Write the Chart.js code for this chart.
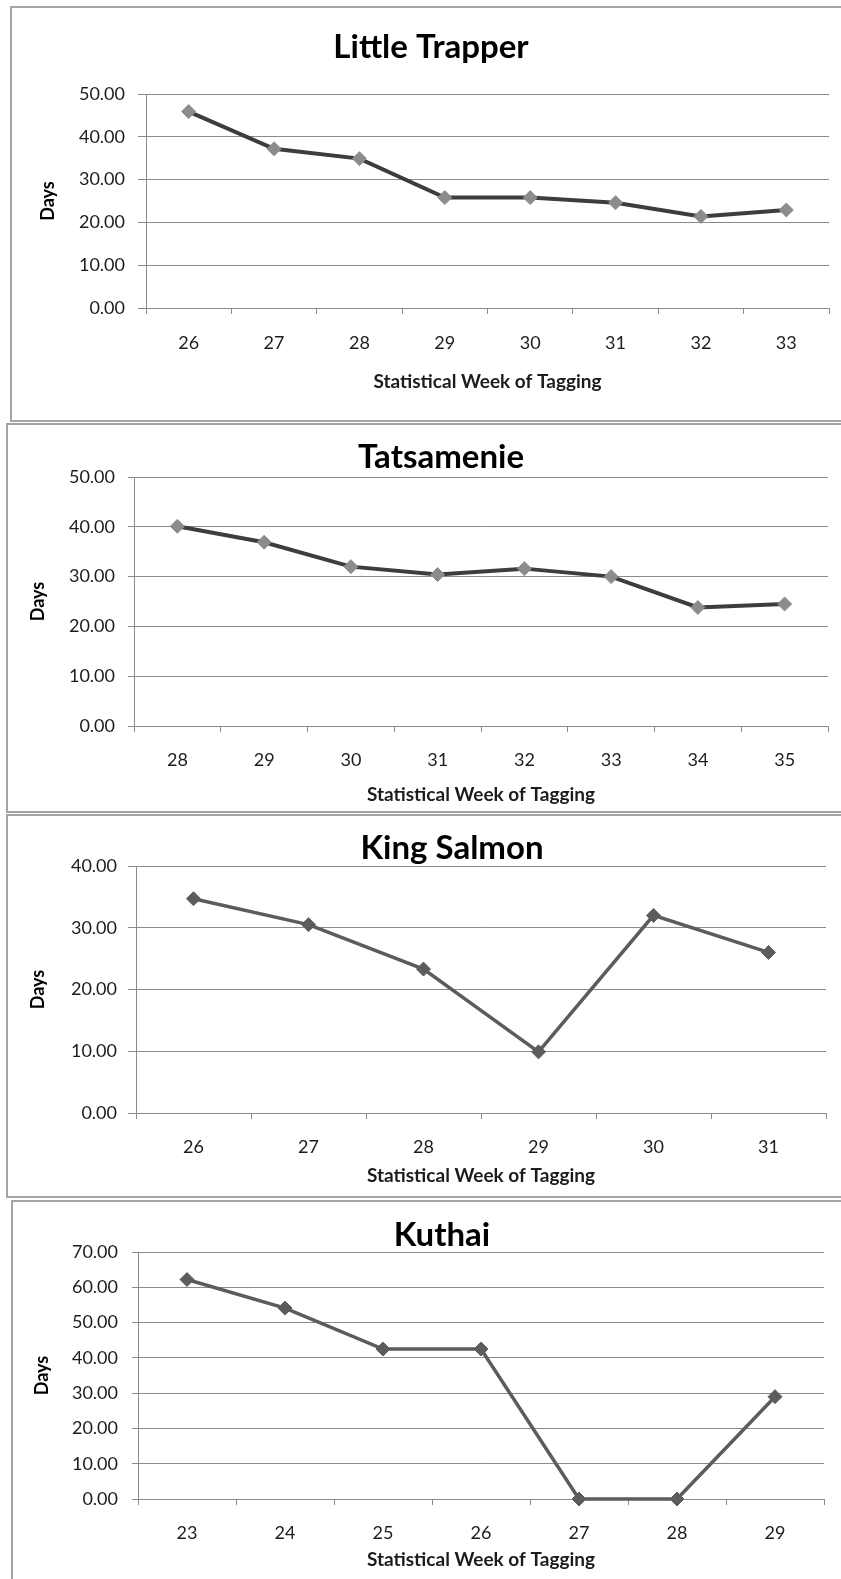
<!DOCTYPE html>
<html>
<head>
<meta charset="utf-8">
<script src="https://cdn.jsdelivr.net/npm/chart.js@4.4.1/dist/chart.umd.min.js"></script>
<style>
  html, body { margin: 0; padding: 0; background: #fff; overflow: hidden; }
  body { width: 841px; height: 1579px; position: relative; }
  .box { position: absolute; width: 900px; box-sizing: border-box; border: 2px solid #a4a4a4; border-right: none; }
  canvas { position: absolute; left: 0; }
</style>
</head>
<body>
<div class="box" style="left:10px; top:6px; height:416px;"></div>
<div class="box" style="left:6px; top:423px; height:390px;"></div>
<div class="box" style="left:6px; top:814px; height:384px;"></div>
<div class="box" style="left:11px; top:1200px; height:500px;"></div>
<canvas id="c1"></canvas>
<canvas id="c2"></canvas>
<canvas id="c3"></canvas>
<canvas id="c4"></canvas>
<script>
// datos
var weeksTrapper = ['26', '27', '28', '29', '30', '31', '32', '33'];
var daysTrapper = [45.9, 37.2, 34.9, 25.8, 25.8, 24.6, 21.4, 22.9];

var weeksTatsamenie = ['28', '29', '30', '31', '32', '33', '34', '35'];
var daysTatsamenie = [40.1, 36.9, 32.0, 30.4, 31.6, 30.0, 23.8, 24.5];

var weeksKing = ['26', '27', '28', '29', '30', '31'];
var daysKing = [34.7, 30.5, 23.3, 9.9, 32.0, 26.0];

var weeksKuthai = ['23', '24', '25', '26', '27', '28', '29'];
var daysKuthai = [62.2, 54.1, 42.5, 42.5, 0, 0, 29.0];

var yMaxTrapper = 50, yMaxTatsamenie = 50, yMaxKing = 40, yMaxKuthai = 70;

var FONT = 'Lato, "Open Sans", sans-serif';
var GRID = '#8a8a8a';
var TXT = '#1c1c1c';
var ANCHO = 860;

// posiciones de cada panel (pixeles); W = hueco invisible a la derecha para centrar el titulo
var p1 = { top: 7, h: 414, L: 33, R: 31, W: 0, yw: 113, xh: 113, tt: 23.5, tb: 30.5, xp: 18, xtb: 27.6, ytl: 8, yp: 13, dt: 4.2, lw: 4 };
var p2 = { top: 424, h: 388, L: 54, R: 32, W: 0, yw: 80, xh: 86, tt: 16.5, tb: 3.5, xp: 17, xtb: 5.6, ytl: 6, yp: 13, dt: -26.8, lw: 4 };
var p3 = { top: 814, h: 383, L: 60, R: 16, W: 18, yw: 76, xh: 84, tt: 17.5, tb: 1.5, xp: 17, xtb: 9.6, ytl: 8, yp: 11, dt: -32.8, lw: 3.5 };
var p4 = { top: 1201, h: 378, L: 60, R: 36, W: 0, yw: 78, xh: 80, tt: 17.5, tb: 0.5, xp: 17, xtb: 7.6, ytl: 6, yp: 14, dt: -28.8, lw: 3.5 };

function drawPanel(id, p, titulo, labels, data, yMax, lineColor, pointColor) {
    var canvas = document.getElementById(id);
    canvas.width = ANCHO;
    canvas.height = p.h;
    canvas.style.top = p.top + 'px';

    new Chart(canvas, {
        type: 'line',
        data: {
            labels: labels,
            datasets: [{
                data: data,
                borderColor: lineColor,
                borderWidth: p.lw,
                tension: 0,
                clip: false,
                pointStyle: 'rectRot',
                pointRadius: 7,
                pointBackgroundColor: pointColor,
                pointBorderColor: pointColor,
                pointBorderWidth: 1
            }]
        },
        options: {
            responsive: false,
            animation: false,
            devicePixelRatio: 1,
            layout: { padding: { left: p.L, right: p.R, top: 0, bottom: 0 } },
            plugins: {
                legend: { display: false },
                tooltip: { enabled: false },
                title: {
                    display: true,
                    text: titulo,
                    color: '#000',
                    font: { family: FONT, size: 33, weight: 'bold', lineHeight: 1 },
                    padding: { top: p.tt, bottom: p.tb }
                }
            },
            scales: {
                x: {
                    offset: true,
                    grid: { offset: true, drawOnChartArea: false, tickLength: 6, color: GRID },
                    border: { color: GRID },
                    ticks: { color: TXT, font: { family: FONT, size: 18 }, padding: p.xp, autoSkip: false, maxRotation: 0 },
                    title: {
                        display: true,
                        text: 'Statistical Week of Tagging',
                        color: TXT,
                        font: { family: FONT, size: 19, weight: 'bold' },
                        padding: { top: 0, bottom: p.xtb }
                    },
                    afterFit: function (scale) { scale.height = p.xh; }
                },
                y: {
                    min: 0,
                    max: yMax,
                    grid: { color: GRID, tickLength: p.ytl },
                    border: { color: GRID },
                    ticks: {
                        stepSize: 10,
                        color: TXT,
                        font: { family: FONT, size: 18 },
                        padding: p.yp,
                        callback: function (v) { return v.toFixed(2); }
                    },
                    title: {
                        display: true,
                        text: 'Days',
                        color: '#000',
                        font: { family: FONT, size: 18, weight: 'bold' },
                        padding: { top: p.dt, bottom: 0 }
                    },
                    afterFit: function (scale) { scale.width = p.yw; }
                },
                // eje vacio a la derecha, solo ocupa sitio
                hueco: {
                    display: p.W > 0,
                    position: 'right',
                    grid: { display: false },
                    border: { display: false },
                    ticks: { display: false },
                    afterFit: function (scale) { scale.width = p.W; }
                }
            }
        }
    });
}

drawPanel('c1', p1, 'Little Trapper', weeksTrapper, daysTrapper, yMaxTrapper, '#3d3d3d', '#8c8c8c');
drawPanel('c2', p2, 'Tatsamenie', weeksTatsamenie, daysTatsamenie, yMaxTatsamenie, '#3d3d3d', '#8c8c8c');
drawPanel('c3', p3, 'King Salmon', weeksKing, daysKing, yMaxKing, '#5c5c5c', '#5c5c5c');
drawPanel('c4', p4, 'Kuthai', weeksKuthai, daysKuthai, yMaxKuthai, '#5c5c5c', '#5c5c5c');
</script>
</body>
</html>
